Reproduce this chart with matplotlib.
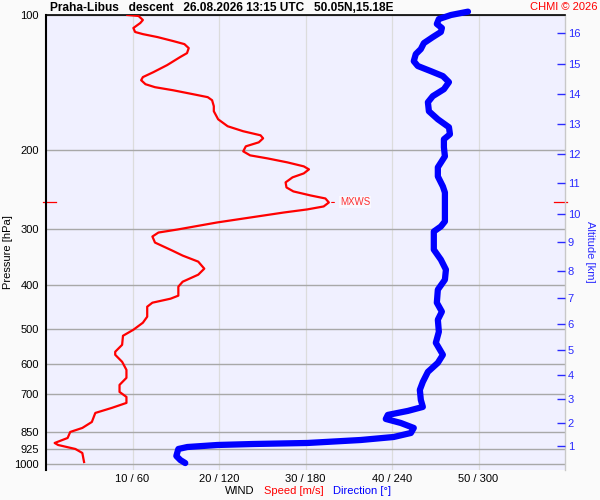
import numpy as np
import matplotlib
matplotlib.use("Agg")
import matplotlib.pyplot as plt
from matplotlib.ticker import FixedLocator, NullLocator

plt.rcParams['font.family'] = ['Liberation Sans', 'DejaVu Sans']

#! sondage : vitesse du vent (m/s) en fonction de la pression (hPa)
speed_hpa = [100.0, 100.5, 102.6, 104.2, 106.9, 109.1, 110.3, 112.0, 114.3, 116.1,
             118.5, 121.6, 124.1, 129.3, 134.1, 137.5, 139.7, 142.6, 144.8, 147.1,
             150.1, 152.4, 154.8, 159.6, 163.8, 170.7, 176.9, 181.5, 185.3, 188.2,
             192.1, 196.1, 201.2, 205.4, 208.6, 212.9, 217.3, 220.7, 225.3, 229.9,
             235.9, 242.1, 247.1, 252.3, 256.2, 261.5, 266.9, 271.0, 275.3, 282.5,
             289.7, 294.3, 300.4, 305.1, 311.4, 321.2, 334.7, 343.4, 354.2, 367.2,
             378.7, 392.6, 402.7, 421.7, 428.3, 437.2, 446.3, 469.8, 484.5, 502.3,
             518.0, 542.6, 562.3, 571.1, 592.0, 617.0, 642.7, 666.4, 690.8, 708.8,
             730.9, 749.9, 769.5, 805.9, 831.0, 848.3, 874.9, 897.6, 906.9, 925.7,
             944.9, 989.7]
speed_ms = [9.4, 10.7, 11.2, 10.9, 10.1, 10.3, 11.2, 12.9, 14.7, 16.0,
            16.5, 16.3, 15.5, 14.0, 12.4, 11.2, 11.0, 11.5, 12.6, 14.7,
            17.0, 18.7, 19.2, 19.4, 19.4, 19.9, 21.0, 22.8, 24.8, 25.1,
            24.6, 23.1, 22.8, 23.6, 25.6, 27.9, 29.8, 30.4, 29.8, 28.5,
            27.7, 27.8, 28.6, 30.6, 32.3, 32.7, 32.1, 30.2, 27.5, 23.6,
            19.8, 17.8, 15.2, 13.0, 12.3, 12.6, 14.6, 15.8, 17.6, 18.3,
            17.6, 15.8, 15.3, 15.3, 14.4, 12.3, 11.7, 11.7, 11.2, 10.1,
            8.9, 8.8, 8.0, 8.0, 8.8, 9.3, 9.3, 8.5, 8.5, 9.3,
            9.3, 7.6, 5.7, 5.3, 4.2, 2.8, 2.5, 1.0, 1.4, 3.4,
            4.2, 4.4]

#! direction du vent (degres)
dir_hpa = [98.3, 100.0, 102.1, 104.7, 106.9, 109.1, 112.0, 115.5, 119.1, 122.2,
           126.7, 129.9, 133.4, 136.8, 141.1, 146.3, 151.6, 156.4, 163.8, 170.7,
           177.8, 184.3, 189.1, 197.1, 206.4, 218.4, 228.8, 240.9, 248.5, 288.2,
           295.8, 303.5, 333.0, 350.6, 369.0, 388.6, 408.9, 437.2, 457.8, 477.0,
           507.5, 537.0, 571.1, 595.1, 623.3, 656.1, 683.7, 719.7, 746.1, 761.5,
           777.3, 793.6, 810.1, 831.0, 852.7, 870.4, 884.0, 897.6, 902.3, 906.9,
           916.4, 925.7, 959.6, 979.7, 994.9]
dir_deg = [292.7, 280.9, 272.5, 271.1, 274.6, 273.9, 268.3, 262.1, 260.0, 256.5,
           255.1, 257.9, 267.0, 275.3, 279.5, 276.0, 268.3, 264.9, 265.6, 271.8,
           279.5, 280.2, 276.0, 276.0, 276.7, 271.8, 271.8, 275.3, 276.7, 276.7,
           273.9, 269.0, 269.0, 273.9, 277.4, 276.7, 271.8, 271.1, 274.6, 271.8,
           272.5, 270.4, 275.3, 271.8, 264.9, 261.4, 259.3, 260.0, 261.4, 251.0,
           237.1, 235.7, 246.1, 255.1, 253.1, 241.2, 218.3, 181.4, 143.9, 118.9,
           98.0, 91.8, 90.4, 93.2, 96.6]

pressure_levels = [100, 200, 300, 400, 500, 600, 700, 850, 925, 1000]
speed_ticks = [10, 20, 30, 40, 50]
dir_ticks = [60, 120, 180, 240, 300]

alt_km = list(range(1, 17))
alt_hpa = [912, 810, 716, 633, 557, 487, 426, 371, 321, 277, 237, 204, 175, 150, 128.6, 109.7]

bleu = '#0000ff'
rouge = '#ff0000'

fig = plt.figure(figsize=(6, 5), dpi=100, facecolor='#fafafa')
ax = fig.add_axes([46/600, 30/500, 519/600, 455/500])
ax.set_facecolor('#f0f0ff')
ax.set_yscale('log')
ax.set_ylim(1031, 100)
ax.set_xlim(0, 60)

ax.yaxis.set_major_locator(FixedLocator(pressure_levels))
ax.yaxis.set_minor_locator(NullLocator())
ax.set_yticklabels([str(p) for p in pressure_levels])
ax.set_xticks(speed_ticks)
ax.set_xticklabels([f"{s} / {d}" for s, d in zip(speed_ticks, dir_ticks)])
ax.tick_params(axis='both', length=0, labelsize=8)
ax.tick_params(axis='y', pad=5)
ax.tick_params(axis='x', pad=3)
ax.grid(axis='y', color='#a8a8a8', lw=1.0)
ax.grid(axis='x', color='#dcdcdc', lw=0.9)
ax.set_axisbelow(True)

ax.spines['left'].set_color('black')
ax.spines['left'].set_linewidth(1.5)
ax.spines['top'].set_color('black')
ax.spines['top'].set_linewidth(1.2)
ax.spines['bottom'].set_visible(False)
ax.spines['right'].set_color('#c8c8c8')
ax.spines['right'].set_linewidth(1.0)

# direction ramenee a l'echelle des vitesses (300 deg <-> 50 m/s)
ax.plot(np.array(dir_deg) / 6, dir_hpa, color=bleu, lw=4.5,
        solid_capstyle='round', solid_joinstyle='round', clip_on=False, zorder=3)
ax.plot(speed_ms, speed_hpa, color=rouge, lw=1.6, solid_joinstyle='round', zorder=4)

# vent maximal
i_max = int(np.argmax(speed_ms))
p_max = speed_hpa[i_max]
ax.annotate('', xy=(speed_ms[i_max], p_max), xytext=(6, 0), textcoords='offset points',
            arrowprops=dict(arrowstyle='-', color=rouge, lw=0.8))
ax.annotate('MXWS', xy=(speed_ms[i_max], p_max), xytext=(8, 0), textcoords='offset points',
            va='center', ha='left', fontsize=7, color='#ff3030',
            bbox=dict(boxstyle='square,pad=0.1', fc='#f8f8ff', ec='none'))
ax.plot([-0.006, 0.02], [p_max, p_max], color=rouge, lw=0.9,
        transform=ax.get_yaxis_transform(), clip_on=False)
ax.plot([0.979, 1.004], [p_max, p_max], color=rouge, lw=0.9,
        transform=ax.get_yaxis_transform(), clip_on=False)

ax2 = ax.twinx()
ax2.set_yscale('log')
ax2.set_ylim(ax.get_ylim())
ax2.yaxis.set_major_locator(FixedLocator(alt_hpa))
ax2.yaxis.set_minor_locator(NullLocator())
ax2.set_yticklabels([str(k) for k in alt_km])
ax2.tick_params(axis='y', direction='in', length=6, width=1, pad=2,
                colors='#2a2aff', labelsize=8)
for s in ax2.spines.values():
    s.set_visible(False)

fig.text(50/600, 1 - 8/500, "Praha-Libus   descent   26.08.2026 13:15 UTC   50.05N,15.18E",
         fontsize=8.6, fontweight='bold', ha='left', va='center')
fig.text(597/600, 1 - 7/500, "CHMI © 2026", fontsize=8, color=rouge, ha='right', va='center')
fig.text(8/600, 1 - 252/500, "Pressure [hPa]", rotation=90, fontsize=8, ha='center', va='center')
fig.text(590/600, 1 - 252/500, "Altitude [km]", rotation=270, fontsize=8, color='#2a2aff',
         ha='center', va='center')
fig.text(225/600, 1 - 491/500, "WIND", fontsize=8, ha='left', va='center')
fig.text(264/600, 1 - 491/500, "Speed [m/s]", fontsize=8, color=rouge, ha='left', va='center')
fig.text(333/600, 1 - 491/500, "Direction [°]", fontsize=8, color=bleu, ha='left', va='center')

fig.savefig('out.png', dpi=100, facecolor=fig.get_facecolor())
